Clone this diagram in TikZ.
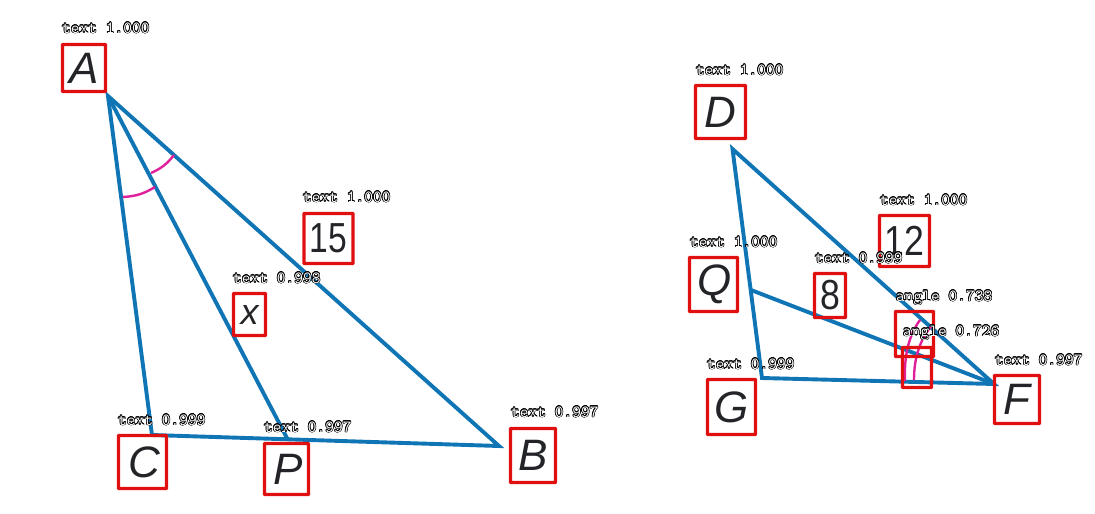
\documentclass[tikz,border=0pt]{standalone}
\usepackage{fontspec}
\usepackage[copies]{contour}
\setmainfont{Liberation Sans}
\contourlength{0.6pt}
\definecolor{segblue}{HTML}{0F75B5}
\definecolor{arcpink}{HTML}{E0209A}
\definecolor{detred}{HTML}{E01010}
\definecolor{inkdark}{HTML}{222428}
\newcommand{\detlabel}[1]{\contour{black}{#1}}
\tikzset{
  detbox/.style={draw=detred,line width=3.4pt,inner sep=0pt,outer sep=0pt,rounded corners=0.6pt,text=inkdark},
  detlab/.style={anchor=base west,inner sep=0pt,outer sep=0pt,text=white,font=\ttfamily\fontsize{17}{18}\selectfont},
  segline/.style={draw=segblue,line width=3.9pt,miter limit=10},
  arcline/.style={draw=arcpink,line width=2.4pt},
  letterfont/.style={font=\itshape\fontsize{44}{46}\selectfont},
  digitfont/.style={font=\fontsize{42}{44}\selectfont},
}
\begin{document}
\begin{tikzpicture}[x=1pt,y=-1pt]
\useasboundingbox (0,0) rectangle (1095,514);
% vertices
\coordinate (vA) at (108,96);
\coordinate (vC) at (152,435);
\coordinate (vP) at (288,440);
\coordinate (vB) at (499,446);
\coordinate (vD) at (732.5,149);
\coordinate (vG) at (762,378);
\coordinate (vQ) at (751,290);
\coordinate (vF) at (994,384);
% arc ends
\coordinate (a1s) at (123,197);
\coordinate (a1e) at (155,187);
\coordinate (a2s) at (151,173);
\coordinate (a2e) at (174,155);
\coordinate (f1s) at (905,381);
\coordinate (f1e) at (920,320);
\coordinate (f2s) at (914,380);
\coordinate (f2e) at (932,325);
% triangles
\draw[segline] (vA) -- (vC) -- (vB) -- cycle;
\draw[segline] (vA) -- (vP);
\draw[segline] (vD) -- (vG) -- (vF) -- cycle;
\draw[segline] (vQ) -- (vF);
% angle marks
\draw[arcline] (a1s) to[bend right=14] (a1e);
\draw[arcline] (a2s) to[bend right=14] (a2e);
\draw[arcline] (f1s) .. controls (904,358) and (908,336) .. (f1e);
\draw[arcline] (f2s) .. controls (914,359) and (919,341) .. (f2e);
% boxes
\node[detbox,letterfont,minimum width=43pt,minimum height=47pt] (A) at (84,68) {\textit{A}};
\node[detbox,digitfont,minimum width=49pt,minimum height=50pt] (n15) at (328.5,238.5) {\scalebox{0.8}[1]{15}};
\node[detbox,letterfont,minimum width=32pt,minimum height=42pt] (x) at (249.5,314.5) {\fontsize{36}{38}\selectfont\textit{x}};
\node[detbox,letterfont,minimum width=48pt,minimum height=53pt] (C) at (142.5,462) {\hspace*{3pt}\textit{C}};
\node[detbox,letterfont,minimum width=44pt,minimum height=51pt] (P) at (286.5,469) {\hspace*{4pt}\textit{P}};
\node[detbox,letterfont,minimum width=45pt,minimum height=54pt] (B) at (533,455.5) {\textit{B}};
\node[detbox,letterfont,minimum width=50pt,minimum height=53pt] (D) at (720.5,112) {\textit{D}};
\node[detbox,digitfont,minimum width=50pt,minimum height=51pt] (n12) at (904.5,241) {\scalebox{0.85}[1]{12}};
\node[detbox,letterfont,minimum width=48pt,minimum height=54pt] (Q) at (713.5,284.5) {\hspace*{3pt}\textit{Q}};
\node[detbox,digitfont,minimum width=31pt,minimum height=44pt] (n8) at (830,295.5) {\scalebox{0.85}[1]{8}};
\node[detbox,letterfont,minimum width=48pt,minimum height=55pt] (G) at (731.5,407) {\textit{G}};
\node[detbox,letterfont,minimum width=45pt,minimum height=48pt] (F) at (1017,399.5) {\textit{F}};
\node[detbox,minimum width=38pt,minimum height=45pt] (ang1) at (914.5,334) {};
\node[detbox,minimum width=29pt,minimum height=40pt] (ang2) at (917,367.5) {};
% detection labels
\node[detlab] (lA) at (62,33) {\detlabel{text 1.000}};
\node[detlab] (l15) at (303,202) {\detlabel{text 1.000}};
\node[detlab] (lx) at (233,283) {\detlabel{text 0.998}};
\node[detlab] (lC) at (118,425) {\detlabel{text 0.999}};
\node[detlab] (lP) at (264,432) {\detlabel{text 0.997}};
\node[detlab] (lB) at (511,417) {\detlabel{text 0.997}};
\node[detlab] (lD) at (696,75) {\detlabel{text 1.000}};
\node[detlab] (l12) at (880,205) {\detlabel{text 1.000}};
\node[detlab] (lQ) at (690,247) {\detlabel{text 1.000}};
\node[detlab] (l8) at (815,263) {\detlabel{text 0.999}};
\node[detlab] (lG) at (707,369) {\detlabel{text 0.999}};
\node[detlab] (lF) at (995,365) {\detlabel{text 0.997}};
\node[detlab] (lang1) at (896,301) {\detlabel{angle 0.738}};
\node[detlab] (lang2) at (903,336) {\detlabel{angle 0.726}};
\end{tikzpicture}
\end{document}
